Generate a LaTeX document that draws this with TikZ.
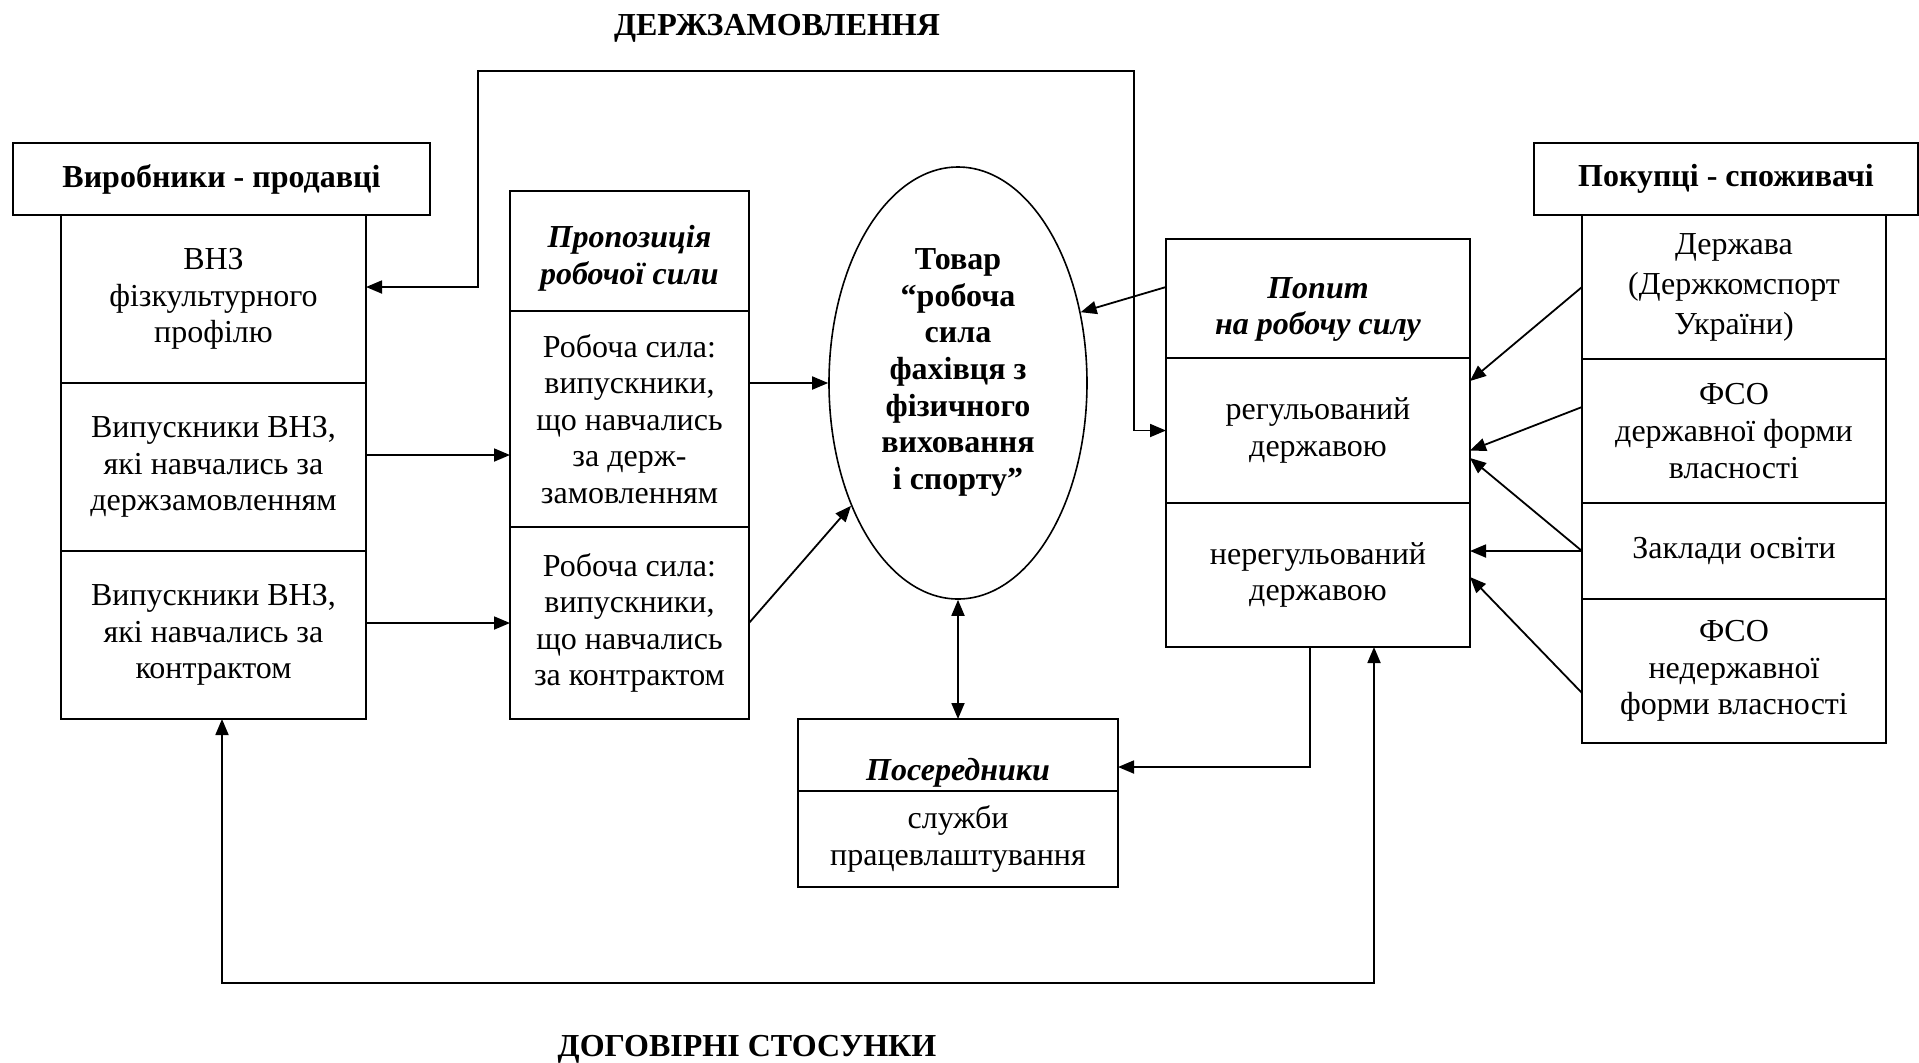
\documentclass[tikz,border=0pt]{standalone}
\usepackage{fontspec}
\setmainfont{Liberation Serif}
\usetikzlibrary{arrows.meta,shapes}
\tikzset{
  cell/.style = {draw, line width=0.9pt, inner sep=0pt, outer sep=0pt, align=center,
    font=\fontsize{16}{18.3}\selectfont},
  hcell/.style = {cell, font=\fontsize{16}{18.3}\selectfont\bfseries\itshape},% header of a block
  side/.style = {cell, font=\fontsize{16}{18.3}\selectfont\bfseries},
  title/.style = {font=\fontsize{16}{18.3}\selectfont\bfseries},
  oval/.style = {ellipse, draw, line width=0.8pt, inner sep=0pt, align=center,
    font=\fontsize{16}{18.3}\selectfont\bfseries},
}
\begin{document}
\begin{tikzpicture}[x=0.5pt,y=-0.5pt,>={Triangle[length=8pt,width=6.5pt]},line width=0.9pt]
\useasboundingbox (0,0) rectangle (1919,1062);
% titles
\node[title] (derzzam) at (777,28) {ДЕРЖЗАМОВЛЕННЯ};
\node[title] (dogovir) at (747,1049) {ДОГОВІРНІ СТОСУНКИ};
% vyrobnyky
\node[side, minimum width=208.5pt, minimum height=36pt] (vyrob) at (221.5,179) {Виробники - продавці};
\node[cell, minimum width=152.5pt, minimum height=84pt] (vnz) at (213.5,299) {ВНЗ\\фізкультурного\\профілю};
\node[cell, minimum width=152.5pt, minimum height=84pt] (vypd) at (213.5,467) {Випускники ВНЗ,\\які навчались за\\держзамовленням};
\node[cell, minimum width=152.5pt, minimum height=84pt] (vypk) at (213.5,635) {Випускники ВНЗ,\\які навчались за\\контрактом};
% propozytsiia
\node[hcell, minimum width=119.5pt, minimum height=60pt] (prop) at (629.5,251) {\rule{0pt}{18.5pt}Пропозиція\\робочої сили};
\node[cell, minimum width=119.5pt, minimum height=108pt] (propd) at (629.5,419) {Робоча сила:\\випускники,\\що навчались\\за держ-\\замовленням};
\node[cell, minimum width=119.5pt, minimum height=96pt] (propk) at (629.5,623) {Робоча сила:\\випускники,\\що навчались\\за контрактом};
% tovar
\node[oval, minimum width=129pt, minimum height=216pt, text depth=14pt] (tovar) at (958,383) {Товар\\“робоча\\сила\\фахівця з\\фізичного\\виховання\\і спорту”};
% poserednyky
\node[hcell, minimum width=160pt, minimum height=36pt] (poser) at (958,755) {\rule{0pt}{28.5pt}Посередники};
\node[cell, minimum width=160pt, minimum height=48pt] (sluzhby) at (958,839) {служби\\працевлаштування};
% popyt
\node[hcell, minimum width=152pt, minimum height=59.5pt] (popyt) at (1318,298.5) {\rule{0pt}{21.5pt}Попит\\на робочу силу};
\node[cell, minimum width=152pt, minimum height=72.5pt] (reg) at (1318,430.5) {регульований\\державою};
\node[cell, minimum width=152pt, minimum height=72pt] (nereg) at (1318,575) {нерегульований\\державою};
% pokuptsi
\node[side, minimum width=192pt, minimum height=36pt] (pokup) at (1726,179) {Покупці - споживачі};
\node[cell, minimum width=152pt, minimum height=72pt, font=\fontsize{16}{20}\selectfont] (derzh) at (1734,287) {Держава\\(Держкомспорт\\України)};
\node[cell, minimum width=152pt, minimum height=72pt] (fsod) at (1734,431) {ФСО\\державної форми\\власності};
\node[cell, minimum width=152pt, minimum height=48pt] (zaklad) at (1734,551) {Заклади освіти};
\node[cell, minimum width=152pt, minimum height=72pt] (fson) at (1734,671) {ФСО\\недержавної\\форми власності};

% derzhzamovlennia loop
\coordinate (zamtop) at (806,71);
\draw[<->] ([yshift=6pt]vnz.east) -- ++(56pt,0) |- (zamtop) -| ([xshift=-16pt]reg.west) -- (reg.west);
% propozytsiia
\draw[->] ([yshift=6pt]vypd.east) -- ([yshift=6pt]vypd.east -| propd.west);
\draw[->] ([yshift=6pt]vypk.east) -- ([yshift=6pt]vypk.east -| propk.west);
\draw[->] (propd.east |- tovar.west) -- (tovar.west);
\draw[->] (propk.east) -- (tovar);
\draw[->] ([yshift=5.75pt]popyt.west) -- (tovar.30);
% poserednyky
\draw[<->] (poser.north |- tovar.south) -- (poser.north);
\draw[->] ([xshift=-4pt]nereg.south) |- ([yshift=-6pt]poser.east);
% dogovirni stosunky loop
\coordinate (dogline) at (800,983);
\draw[<->] ([xshift=4.25pt]vypk.south) |- (dogline) -| ([xshift=28pt]nereg.south);
% pokuptsi to popyt
\draw[->] (derzh.west) -- ([yshift=24.75pt]reg.east);
\draw[->] ([yshift=12pt]fsod.west) -- ([yshift=-10pt]reg.east);
\draw[->] (zaklad.west) -- ([yshift=-13.75pt]reg.east);
\draw[->] (zaklad.west) -- (zaklad.west -| nereg.east);
\draw[->] ([yshift=-11pt]fson.west) -- ([yshift=-1pt]nereg.east);
\end{tikzpicture}
\end{document}
